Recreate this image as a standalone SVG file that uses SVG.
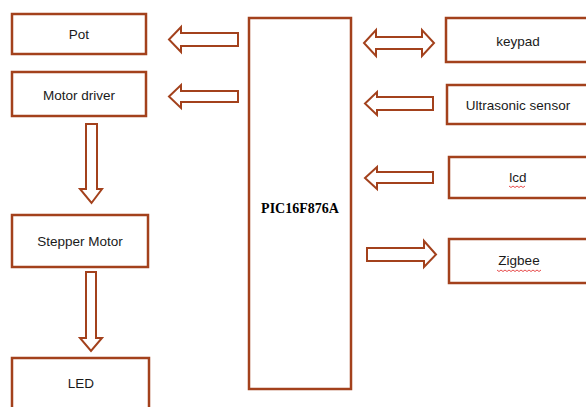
<svg xmlns="http://www.w3.org/2000/svg" width="586" height="407" viewBox="0 0 586 407">
<style>
.box{fill:#fff;stroke:#A3411C;stroke-width:2.5}
.arr{fill:#fff;stroke:#A3411C;stroke-width:2;stroke-linejoin:miter}
.t{font-family:"Liberation Sans",Arial,sans-serif;font-size:13.5px;fill:#1a1a1a;text-anchor:middle;dominant-baseline:central}
.b{font-family:"Liberation Serif","Times New Roman",serif;font-size:14px;font-weight:bold;fill:#000;text-anchor:middle;dominant-baseline:central}
.sq{fill:none;stroke:#e02020;stroke-width:0.8}
</style>
<rect width="586" height="407" fill="#fff"/>
<g id="connectors">
<polygon class="arr" points="238,33 181,33 181,27 169,39.5 181,52 181,46 238,46"/>
<polygon class="arr" points="238,91 181,91 181,85 169,96.5 181,108 181,102 238,102"/>
<polygon class="arr" points="376,37 422,37 422,30 434,43 422,56 422,49 376,49 376,56 364,43 376,30"/>
<polygon class="arr" points="433,97 377,97 377,92 365,103.5 377,115 377,110 433,110"/>
<polygon class="arr" points="433,172 377,172 377,167 365,178 377,189 377,183 433,183"/>
<polygon class="arr" points="367,248 424,248 424,241 436,254.5 424,267 424,261 367,261"/>
<polygon class="arr" points="86,124 97,124 97,189 102,189 91.5,203 80,189 86,189"/>
<polygon class="arr" points="86,272 96,272 96,338 102,338 91,351 80,338 86,338"/>
</g>
<g id="pic">
<rect class="box" x="249" y="18" width="102" height="371"/>
<text class="b" x="300" y="208">PIC16F876A</text>
</g>
<g id="pot">
<rect class="box" x="12" y="14" width="134" height="40"/>
<text class="t" x="79" y="34">Pot</text>
</g>
<g id="motor-driver">
<rect class="box" x="12" y="72" width="134" height="44"/>
<text class="t" x="79" y="95">Motor driver</text>
</g>
<g id="stepper-motor">
<rect class="box" x="12" y="215" width="136" height="52"/>
<text class="t" x="80" y="241">Stepper Motor</text>
</g>
<g id="led">
<rect class="box" x="12" y="358" width="137" height="60"/>
<text class="t" x="81" y="383">LED</text>
</g>
<g id="keypad">
<rect class="box" x="446" y="18" width="150" height="44"/>
<text class="t" x="518" y="41">keypad</text>
</g>
<g id="ultrasonic-sensor">
<rect class="box" x="447" y="85" width="150" height="39"/>
<text class="t" x="518" y="105">Ultrasonic sensor</text>
</g>
<g id="lcd">
<rect class="box" x="449" y="157" width="150" height="41"/>
<text class="t" x="518" y="177">lcd</text>
<path class="sq" d="M509,186 l2,1.5 l2,-1.5 l2,1.5 l2,-1.5 l2,1.5 l2,-1.5 l2,1.5 l2,-1.5"/>
</g>
<g id="zigbee">
<rect class="box" x="449" y="239" width="150" height="44"/>
<text class="t" x="519" y="260">Zigbee</text>
<path class="sq" d="M497,270 l2,1.5 l2,-1.5 l2,1.5 l2,-1.5 l2,1.5 l2,-1.5 l2,1.5 l2,-1.5 l2,1.5 l2,-1.5 l2,1.5 l2,-1.5 l2,1.5 l2,-1.5 l2,1.5 l2,-1.5 l2,1.5 l2,-1.5 l2,1.5 l2,-1.5 l2,1.5 l2,-1.5"/>
</g>
</svg>
